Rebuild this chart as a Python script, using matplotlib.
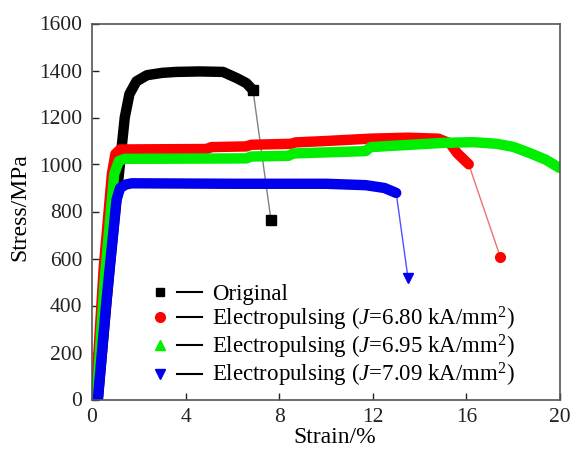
import matplotlib
matplotlib.use("Agg")
import matplotlib.pyplot as plt
from matplotlib.lines import Line2D
from matplotlib.legend_handler import HandlerTuple

plt.rcParams['font.family'] = ['Liberation Serif', 'DejaVu Serif']
plt.rcParams['mathtext.fontset'] = 'custom'
plt.rcParams['mathtext.rm'] = 'Liberation Serif'
plt.rcParams['mathtext.it'] = 'Liberation Serif:italic'

# curves (strain %, stress MPa)
orig_strain = [0.25, 0.75, 1.15, 1.4, 1.6, 1.9, 2.35, 3.0, 3.6, 4.6, 5.6, 6.2, 6.6, 6.88]
orig_stress = [0, 560, 960, 1200, 1300, 1354, 1380, 1390, 1394, 1396, 1394, 1367, 1346, 1316]
orig_end = (7.65, 763)

ep680_strain = [0.15, 0.5, 0.85, 1.0, 1.2, 4.9, 5.1, 6.6, 6.8, 8.5, 8.7, 10.0, 11.9, 13.5, 14.8, 15.3, 15.6, 16.1]
ep680_stress = [0, 560, 960, 1045, 1064, 1066, 1074, 1077, 1084, 1088, 1094, 1100, 1110, 1114, 1110, 1090, 1049, 1001]
ep680_end = (17.45, 606)

ep695_strain = [0.2, 0.55, 0.95, 1.15, 1.4, 6.6, 6.8, 8.4, 8.6, 11.7, 11.9, 15.0, 16.3, 17.3, 18.0, 18.7, 19.4, 19.97]
ep695_stress = [0, 520, 960, 1015, 1024, 1026, 1034, 1037, 1047, 1057, 1074, 1092, 1095, 1088, 1075, 1049, 1020, 986]

ep709_strain = [0.25, 0.6, 1.05, 1.2, 1.45, 1.7, 6.0, 10.0, 11.7, 12.5, 13.0]
ep709_stress = [0, 400, 850, 900, 915, 920, 918, 918, 912, 900, 879]
ep709_end = (13.5, 519)

labels = ['Original',
          r'Electropulsing ($\mathit{J}$=6.80 kA/mm$^2$)',
          r'Electropulsing ($\mathit{J}$=6.95 kA/mm$^2$)',
          r'Electropulsing ($\mathit{J}$=7.09 kA/mm$^2$)']

fig = plt.figure(figsize=(5.77, 4.5), dpi=100)
ax = fig.add_axes([92 / 577, 1 - 399.5 / 450, 468 / 577, 376 / 450])

band = dict(lw=7.5, solid_capstyle='round', solid_joinstyle='round')

# black original
ax.plot([orig_strain[-1], orig_end[0]], [orig_stress[-1], orig_end[1]], color='#808080', lw=1)
ax.plot(orig_strain, orig_stress, color='black', **band)
ax.plot(orig_strain[-1], orig_stress[-1], 's', color='black', ms=7)
ax.plot(*orig_end, 's', color='black', ms=7)

# red
ax.plot([ep680_strain[-1], ep680_end[0]], [ep680_stress[-1], ep680_end[1]], color='#f07070', lw=1)
ax.plot(ep680_strain, ep680_stress, color='#ff0000', **band)
ax.plot(*ep680_end, 'o', color='#ff0000', ms=7)

# green
ax.plot(ep695_strain, ep695_stress, color='#00ee00', **band)

# blue
ax.plot([ep709_strain[-1], ep709_end[0]], [ep709_stress[-1], ep709_end[1]], color='#5050ff', lw=1)
ax.plot(ep709_strain, ep709_stress, color='#0000ee', **band)
ax.plot(*ep709_end, 'v', color='#0000ee', ms=7)

ax.set_xlim(0, 20)
ax.set_ylim(0, 1600)
ax.set_xticks([0, 4, 8, 12, 16, 20])
ax.set_yticks(range(0, 1601, 200))
ax.tick_params(direction='in', length=5, width=1, labelsize=15.5, colors='#222222',
               top=False, right=False)
ax.tick_params(axis='y', pad=7)
ax.tick_params(axis='x', pad=6)
for s in ax.spines.values():
    s.set_color('#555555')
    s.set_linewidth(1.2)

ax.set_xlabel('Strain/%', fontsize=17, va='center')
ax.xaxis.set_label_coords(0.519, -0.102)
ax.set_ylabel('Stress/MPa', fontsize=17, va='center')
ax.yaxis.set_label_coords(-0.154, 0.512)

dash = Line2D([], [], color='black', lw=1.5)
handles = [
    (Line2D([], [], marker='s', color='black', ls='none', ms=6), dash),
    (Line2D([], [], marker='o', color='#ff0000', ls='none', ms=7), dash),
    (Line2D([], [], marker='^', color='#00ee00', ls='none', ms=7), dash),
    (Line2D([], [], marker='v', color='#0000ee', ls='none', ms=7), dash),
]
ax.legend(handles, labels, handler_map={tuple: HandlerTuple(ndivide=None, pad=0.2)},
          loc='center left', bbox_to_anchor=(0.1186, 0.168), frameon=False,
          fontsize=16.5, handlelength=2.38, handletextpad=0.42, labelspacing=0.0,
          borderpad=0, borderaxespad=0)

fig.savefig('out.png', dpi=100)
